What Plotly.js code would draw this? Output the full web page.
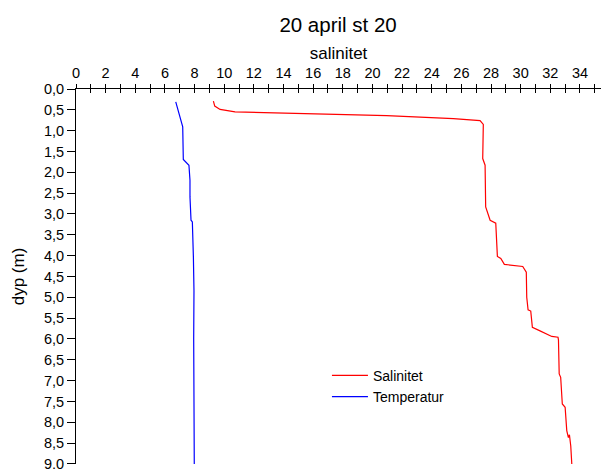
<!DOCTYPE html>
<html>
<head>
<meta charset="utf-8">
<script src="https://cdn.plot.ly/plotly-3.0.1.min.js"></script>
<style>html,body{margin:0;padding:0;background:#fff;}#chart{width:601px;height:469px;}</style>
</head>
<body>
<div id="chart"></div>
<script>
// Salinity profile (salinitet vs depth)
var salDepth = [0.29, 0.41, 0.49, 0.55, 0.64, 0.71, 0.76, 0.85, 1.67, 1.83, 2.83, 3.15, 3.22, 4.02, 4.07, 4.21, 4.26, 4.40, 5.00, 5.30, 5.33, 5.72, 5.80, 5.94, 5.96, 6.02, 6.84, 6.92, 7.56, 7.64, 8.20, 8.37, 8.30, 8.57, 9.00];
var salValue = [9.27, 9.36, 9.72, 10.73, 20.96, 25.46, 27.26, 27.48, 27.44, 27.60, 27.64, 27.94, 28.32, 28.43, 28.66, 28.90, 30.14, 30.38, 30.41, 30.50, 30.68, 30.79, 31.27, 32.10, 32.52, 32.55, 32.60, 32.70, 32.81, 33.00, 33.11, 33.22, 33.29, 33.38, 33.45];
// Temperature profile
var tempDepth = [0.31, 0.91, 1.69, 1.75, 1.83, 2.19, 2.59, 3.15, 3.19, 4.03, 4.84, 6.00, 7.00, 8.00, 9.00];
var tempValue = [6.73, 7.20, 7.24, 7.40, 7.62, 7.69, 7.69, 7.76, 7.85, 7.92, 7.96, 7.94, 7.97, 7.96, 7.98];

// Depth tick values
var depthTicks = [0, 0.5, 1, 1.5, 2, 2.5, 3, 3.5, 4, 4.5, 5, 5.5, 6, 6.5, 7, 7.5, 8, 8.5, 9];

var seriesNames = ["Salinitet", "Temperatur"];
var titleText = "20 april st 20";
var xTitle = "salinitet";
var yTitle = "dyp (m)";

var fnt = "Liberation Sans, Arial, sans-serif";
var xRange = [0, 35.42];

var traces = [
  {x: salValue, y: salDepth, name: seriesNames[0], type: "scatter", mode: "lines",
   line: {color: "#ff0000", width: 1.2}},
  {x: tempValue, y: tempDepth, name: seriesNames[1], type: "scatter", mode: "lines",
   line: {color: "#0000ff", width: 1.2}},
  {x: [0], y: [0], xaxis: "x2", yaxis: "y", showlegend: false, mode: "markers",
   marker: {opacity: 0}, hoverinfo: "skip"}
];

var layout = {
  width: 601, height: 469,
  margin: {l: 76, r: 0, t: 89, b: 5, pad: 0},
  paper_bgcolor: "#fff", plot_bgcolor: "#fff",
  separators: ", ",
  font: {family: fnt, size: 14.5, color: "#000"},
  title: {text: titleText, font: {family: fnt, size: 20.5, color: "#000"},
          x: 0.5625, xanchor: "center", y: 0.947, yanchor: "middle"},
  xaxis: {
    side: "top", range: xRange, showgrid: false, zeroline: false,
    showline: true, linecolor: "#000", linewidth: 1,
    ticks: "outside", ticklen: 4, tickcolor: "#000", dtick: 2, tick0: 0,
    minor: {ticks: "outside", ticklen: 4, dtick: 1, tickcolor: "#000"},
    tickfont: {family: fnt, size: 14.5, color: "#000"},
    title: {text: xTitle, font: {family: fnt, size: 17, color: "#000"}, standoff: 1}
  },
  xaxis2: {
    overlaying: "x", side: "top", range: xRange, showgrid: false, zeroline: false,
    showline: false, ticks: "inside", ticklen: 4, tickcolor: "#000", dtick: 1, tick0: 0,
    showticklabels: false
  },
  yaxis: {
    range: [9.002, 0], showgrid: false, zeroline: false,
    showline: true, linecolor: "#000", linewidth: 1,
    ticks: "outside", ticklen: 8, tickcolor: "#000",
    tickmode: "array", tickvals: depthTicks,
    tickformat: ".1f", ticklabeloverflow: "allow",
    tickfont: {family: fnt, size: 14.5, color: "#000"},
    title: {text: yTitle, font: {family: fnt, size: 17, color: "#000"}, standoff: 14}
  },
  legend: {x: 0.478, y: 0.278, xanchor: "left", yanchor: "top",
           bgcolor: "rgba(0,0,0,0)", font: {family: fnt, size: 14, color: "#000"},
           tracegroupgap: 0, itemwidth: 36},
  showlegend: true
};

Plotly.newPlot("chart", traces, layout, {displayModeBar: false, staticPlot: true});
</script>
</body>
</html>
